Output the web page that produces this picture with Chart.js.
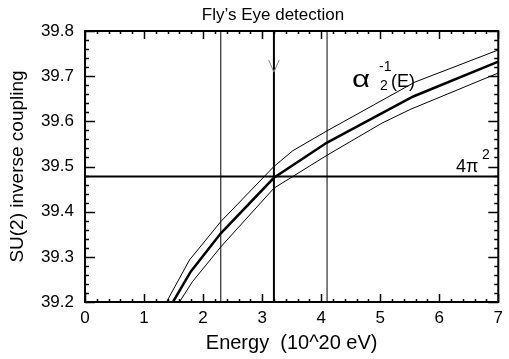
<!DOCTYPE html>
<html>
<head>
<meta charset="utf-8">
<script src="https://cdn.jsdelivr.net/npm/chart.js@4"></script>
<style>
  html, body { margin: 0; padding: 0; background: #fff; }
  #wrap { width: 509px; height: 359px; }
</style>
</head>
<body>
<div id="wrap"><canvas id="chart" width="509" height="359"></canvas></div>
<script>
// -----------------------------
// DATA
// -----------------------------
const upperX = [1.38, 1.77, 2.3, 3.2, 3.52, 4.1, 5.59, 7.0];
const upperY = [39.2, 39.293, 39.378, 39.500, 39.535, 39.579, 39.687, 39.758];

const middleX = [1.49, 1.79, 2.3, 3.2, 4.1, 5.56, 7.0];
const middleY = [39.2, 39.267, 39.352, 39.475, 39.553, 39.655, 39.732];

const lowerX = [1.60, 1.82, 2.3, 3.2, 4.1, 5.03, 5.52, 7.0];
const lowerY = [39.2, 39.245, 39.322, 39.452, 39.525, 39.596, 39.627, 39.707];

// detection energy and its error band
const energyLines = [2.3, 3.2, 4.1];
const fourPiSquared = 39.478;

// arrow head on the central energy line
const arrowX = [3.11, 3.2, 3.29];
const arrowY = [39.736, 39.709, 39.736];

const xMin = 0, xMax = 7;
const yMin = 39.2, yMax = 39.8;

const FONT = "'Liberation Sans', Arial, Helvetica, sans-serif";

function toPoints(xs, ys) {
    return xs.map((x, i) => ({ x: x, y: ys[i] }));
}

function lineSet(data, width, color) {
    return {
        data: data,
        borderColor: color || "#000",
        borderWidth: width,
        showLine: true,
        pointRadius: 0,
        fill: false,
        tension: 0
    };
}

const datasets = [
    lineSet(toPoints(upperX, upperY), 1),
    lineSet(toPoints(middleX, middleY), 2.5),
    lineSet(toPoints(lowerX, lowerY), 1),
    lineSet([{ x: xMin, y: fourPiSquared }, { x: xMax, y: fourPiSquared }], 2),
    lineSet(toPoints(arrowX, arrowY), 1, "#888")
];
energyLines.forEach((e, i) => {
    datasets.push(lineSet([{ x: e, y: yMin }, { x: e, y: yMax }], i === 1 ? 2 : 1));
});

// -----------------------------
// FRAME, INWARD TICKS, LABELS
// -----------------------------
const framePlugin = {
    id: "frame",
    afterDraw(chart) {
        const ctx = chart.ctx;
        const a = chart.chartArea;
        const xs = chart.scales.x;
        const ys = chart.scales.y;
        ctx.save();
        ctx.strokeStyle = "#000";

        // ticks on all four sides
        ctx.lineWidth = 1.5;
        ctx.beginPath();
        for (let i = 0; i <= 35; i++) {
            const v = xMin + i * 0.2;
            const px = Math.round(xs.getPixelForValue(v)) + 0.5;
            const len = i % 5 === 0 ? 8 : 3;
            ctx.moveTo(px, a.bottom); ctx.lineTo(px, a.bottom - len);
            ctx.moveTo(px, a.top); ctx.lineTo(px, a.top + len);
        }
        for (let i = 0; i <= 30; i++) {
            const v = yMin + i * 0.02;
            const py = Math.round(ys.getPixelForValue(v)) + 0.5;
            const len = i % 5 === 0 ? 10 : 4;
            ctx.moveTo(a.left, py); ctx.lineTo(a.left + len, py);
            ctx.moveTo(a.right, py); ctx.lineTo(a.right - len, py);
        }
        ctx.stroke();

        ctx.lineWidth = 2;
        ctx.strokeRect(a.left, a.top, a.right - a.left, a.bottom - a.top);

        // title
        ctx.fillStyle = "#000";
        ctx.textBaseline = "alphabetic";
        ctx.textAlign = "center";
        ctx.font = "17px " + FONT;
        ctx.fillText("Fly\u2019s Eye detection", 273, 20);

        // alpha label (wide symbol-style alpha)
        ctx.textAlign = "left";
        ctx.save();
        ctx.translate(352, 87);
        ctx.scale(1.3, 1);
        ctx.font = "24px " + FONT;
        ctx.fillText("\u03b1", 0, 0);
        ctx.restore();
        ctx.font = "14px " + FONT;
        ctx.fillText("-1", 379, 71);
        ctx.fillText("2", 380, 90);
        ctx.font = "18px " + FONT;
        ctx.fillText("(E)", 391, 87);

        // 4 pi squared label
        ctx.font = "18px " + FONT;
        ctx.fillText("4\u03c0", 456, 172);
        ctx.font = "14px " + FONT;
        ctx.fillText("2", 482, 159);
        ctx.restore();
    }
};

new Chart(document.getElementById("chart"), {
    type: "scatter",
    data: { datasets: datasets },
    options: {
        responsive: false,
        animation: false,
        events: [],
        layout: { padding: { top: 31, right: 2, left: 0, bottom: 0 } },
        plugins: {
            legend: { display: false },
            tooltip: { enabled: false }
        },
        scales: {
            x: {
                type: "linear",
                min: xMin,
                max: xMax,
                grid: { display: false, drawTicks: false },
                border: { display: false },
                ticks: {
                    stepSize: 1,
                    padding: 6,
                    color: "#000",
                    font: { family: FONT, size: 17 }
                },
                title: {
                    display: true,
                    text: "Energy  (10^20 eV)",
                    color: "#000",
                    font: { family: FONT, size: 20 },
                    padding: { top: 0, bottom: 4 }
                },
                afterFit(scale) { scale.height = 57; }
            },
            y: {
                type: "linear",
                min: yMin,
                max: yMax,
                grid: { display: false, drawTicks: false },
                border: { display: false },
                ticks: {
                    stepSize: 0.1,
                    padding: 11,
                    color: "#000",
                    font: { family: FONT, size: 17 },
                    callback: (v) => v.toFixed(1)
                },
                title: {
                    display: true,
                    text: "SU(2) inverse coupling",
                    color: "#000",
                    font: { family: FONT, size: 19 },
                    padding: { top: 6, bottom: 0 }
                },
                afterFit(scale) { scale.width = 85; }
            }
        }
    },
    plugins: [framePlugin]
});
</script>
</body>
</html>
